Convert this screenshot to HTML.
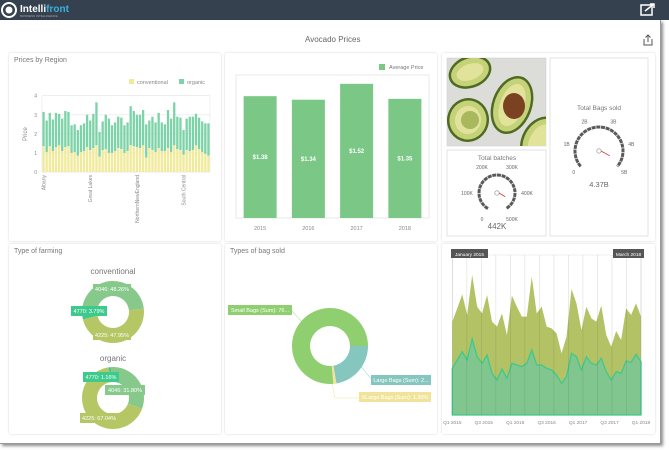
<!DOCTYPE html>
<html><head><meta charset="utf-8">
<style>
*{margin:0;padding:0;box-sizing:border-box}
body{width:669px;height:450px;background:#fff;font-family:"Liberation Sans",sans-serif;position:relative;overflow:hidden}
.abs{position:absolute}
#topbar{left:0;top:0;width:669px;height:20px;background:#364150}
#page{left:0;top:20px;width:661px;height:424px;background:#fff;box-shadow:2px 2px 3px rgba(0,0,0,.45);border-right:1px solid #999;border-bottom:1px solid #999}
.panel{position:absolute;background:#fff;box-shadow:0 0 2px rgba(0,0,0,.18);border-radius:2px}
.ptitle{position:absolute;left:5px;top:4px;font-size:7px;color:#777}
svg text{font-family:"Liberation Sans",sans-serif}
</style></head><body>
<div id="topbar" class="abs">
  <svg width="669" height="20">
    <circle cx="9" cy="10" r="7" fill="none" stroke="#fff" stroke-width="2"/>
    <circle cx="9" cy="10" r="3.5" fill="#fff"/>
    <text x="20" y="12" font-size="10" font-weight="bold" fill="#fff">Intelli<tspan fill="#39b0dc">front</tspan></text>
    <text x="20" y="17" font-size="3" fill="#aaa">BUSINESS INTELLIGENCE</text>
    <g><rect x="641" y="5" width="11" height="10" fill="none" stroke="#fff" stroke-width="1.5"/><path d="M645 11 L654 4 M650 4 L654 4 L654 8" stroke="#fff" stroke-width="1.5" fill="none"/></g>
  </svg>
</div>
<div id="page" class="abs"></div>
<div class="abs" style="left:305px;top:35px;font-size:8px;color:#666">Avocado Prices</div>
<svg class="abs" style="left:642px;top:34px" width="12" height="12"><path d="M2 5 V11 H10 V5 M6 1 V8 M3.5 3.5 L6 1 L8.5 3.5" stroke="#555" fill="none" stroke-width="1"/></svg>

<div class="panel" style="left:9px;top:53px;width:212px;height:188px"><div class="ptitle">Prices by Region</div></div>
<div class="panel" style="left:225px;top:53px;width:212px;height:188px"></div>
<div class="panel" style="left:442px;top:53px;width:213px;height:188px"></div>
<div class="panel" style="left:9px;top:244px;width:212px;height:190px"><div class="ptitle">Type of farming</div></div>
<div class="panel" style="left:225px;top:244px;width:212px;height:190px"><div class="ptitle">Types of bag sold</div></div>
<div class="panel" style="left:442px;top:244px;width:213px;height:190px"></div>

<svg id="main" class="abs" style="left:0;top:0" width="669" height="450"></svg>

<script>
// ---- Chart 1: prices by region ----
const regionTotals=[3.15,2.7,3.1,2.75,3.1,3.05,2.8,3.2,3.15,2.45,2.5,2.2,2.45,2.55,3.0,2.7,3.05,3.65,2.1,2.65,3.0,2.8,2.45,2.6,2.9,2.85,2.45,2.6,3.45,3.2,3.0,3.0,3.25,2.5,2.7,2.9,2.6,3.1,2.6,2.5,3.25,2.8,3.65,2.9,2.85,2.2,2.8,2.9,2.9,3.05,2.85,2.65,2.55,2.55];
const conventional=[1.35,1.05,1.35,1.1,1.3,1.4,1.1,1.3,1.35,1.0,1.05,0.85,1.05,1.1,1.3,1.15,1.25,1.4,0.8,1.15,1.2,1.0,1.0,1.1,1.25,1.2,1.0,1.1,1.4,1.35,1.3,1.25,1.4,0.75,1.25,1.15,1.05,1.25,1.1,1.1,1.25,1.05,1.4,1.2,1.15,0.9,1.15,1.1,1.15,1.4,1.2,1.05,0.95,0.85];
const regionLabels={0:"Albany",15:"Great Lakes",30:"NorthernNewEngland",45:"South Central"};
const priceTicks=[0,1,2,3,4];
// ---- Chart 2: average price ----
const years=["2015","2016","2017","2018"];
const avgPrice=[1.38,1.34,1.52,1.35];
const avgLabels=["$1.38","$1.34","$1.52","$1.35"];
// ---- Gauges ----
const batchLabels=["0","100K","200K","300K","400K","500K"];
const bagLabels=["0","1B","2B","3B","4B","5B"];
// ---- Donuts ----
const convShares=[48.26,47.95,3.79];
const orgShares=[31.80,67.04,1.16];
const bagShares=[76.4,22.3,1.30];
// ---- Area chart ----
const totalVol=[280,320,362,300,420,325,305,360,280,265,305,240,358,325,295,295,415,305,325,265,260,245,185,235,378,335,255,325,290,280,328,240,205,252,225,320,300,335,295];
const greenVol=[140,165,190,165,228,175,155,180,125,105,138,110,155,150,145,155,195,150,150,140,135,120,95,115,185,175,135,175,155,150,170,130,105,130,125,162,158,182,160];
const quarterLabels=["Q1 2015","Q3 2015","Q1 2016","Q3 2016","Q1 2017","Q3 2017","Q1 2018"];

const NS="http://www.w3.org/2000/svg";
const svg=document.getElementById('main');
function mk(tag,attrs,parent){const e=document.createElementNS(NS,tag);for(const k in attrs)e.setAttribute(k,attrs[k]);(parent||svg).appendChild(e);return e;}
function txt(x,y,s,size,fill,anchor,parent){const t=mk('text',{x:x,y:y,'font-size':size,fill:fill,'text-anchor':anchor||'middle'},parent);t.textContent=s;return t;}

// Chart 1
(function(){
 const g=mk('g',{});
 
 
 const x0=42,x1=210,y0=172,y1=95.7,maxV=4;
 const ys=v=>y0-(v/maxV)*(y0-y1);
 mk('rect',{x:x0,y:y1,width:x1-x0,height:y0-y1,fill:'none',stroke:'#e6e6e6','stroke-width':0.6},g);
 priceTicks.forEach(t=>{mk('line',{x1:x0,x2:x1,y1:ys(t),y2:ys(t),stroke:'#e6e6e6','stroke-width':0.6},g);const l=txt(37,ys(t)+2,String(t),5,'#888','end',g);});
 const yt=txt(0,0,"Price",6,'#888','middle',g);yt.setAttribute('transform','translate(27,134) rotate(-90)');
 
 const n=regionTotals.length,bw=(x1-x0)/n;
 for(let i=0;i<n;i++){
  const bx=x0+i*bw+0.4;
  const r1=mk('rect',{x:bx,y:ys(regionTotals[i]),width:bw-0.8,height:ys(conventional[i])-ys(regionTotals[i]),fill:'#7dd3a8'},g);
  
  const r2=mk('rect',{x:bx,y:ys(conventional[i]),width:bw-0.8,height:y0-ys(conventional[i]),fill:'#f1ea9b'},g);
  
  if(regionLabels[i]!==undefined){const l=txt(0,0,regionLabels[i],5,'#888','end',g);l.setAttribute('transform',`translate(${x0+i*bw+bw/2+2},175) rotate(-90)`);}
 }
 const lg=mk('g',{},g);
 mk('rect',{x:129,y:79,width:5,height:5,fill:'#f1ea9b'},lg);txt(137,84,"conventional",5.5,'#888','start',lg);
 mk('rect',{x:179,y:79,width:5,height:5,fill:'#7dd3a8'},lg);txt(187,84,"organic",5.5,'#888','start',lg);
})();

// Chart 2
(function(){
 const g=mk('g',{});
 
 
 const x0=236,x1=429,y0=218,y1=75,maxV=1.62;
 const ys=v=>y0-(v/maxV)*(y0-y1);
 mk('rect',{x:x0,y:y1,width:x1-x0,height:y0-y1,fill:'none',stroke:'#e3e3e3','stroke-width':0.8},g);
 const step=(x1-x0)/years.length,bw=33;
 years.forEach((yr,i)=>{
  const cx=x0+step*(i+0.5);
  const b=mk('rect',{x:cx-bw/2,y:ys(avgPrice[i]),width:bw,height:y0-ys(avgPrice[i]),fill:'#7bc785'},g);
  
  const v=txt(cx,(ys(avgPrice[i])+y0)/2+2,avgLabels[i],6,'#fff','middle',g);v.setAttribute('font-weight','bold');
  
  const l=txt(cx,230,yr,5.5,'#888','middle',g);
 });
 const lg=mk('g',{},g);
 mk('rect',{x:379,y:64,width:6,height:6,fill:'#7bc785'},lg);txt(389,69,"Average Price",5.5,'#777','start',lg);
})();

// Avocado image + KPI boxes
(function(){
 const g=mk('g',{});
 
 
 mk('rect',{x:447,y:58,width:99,height:88,fill:'#dcdcd8',stroke:'#ccc','stroke-width':0.5},g);
 mk('clipPath',{id:'cp'},g);
 const cp=g.lastChild;mk('rect',{x:447,y:58,width:99,height:88},cp);
 const a=mk('g',{'clip-path':'url(#cp)'},g);
 [[470,72,22,16,-20],[468,120,21,22,10],[512,105,20,30,20],[540,140,18,25,30]].forEach(p=>{
  mk('ellipse',{cx:p[0],cy:p[1],rx:p[2],ry:p[3],fill:'#4f6b22',transform:`rotate(${p[4]} ${p[0]} ${p[1]})`},a);
  mk('ellipse',{cx:p[0],cy:p[1],rx:p[2]-2.5,ry:p[3]-2.5,fill:'#c5d27a',transform:`rotate(${p[4]} ${p[0]} ${p[1]})`},a);
  mk('ellipse',{cx:p[0],cy:p[1],rx:p[2]-8,ry:p[3]-8,fill:'#e2e39a',transform:`rotate(${p[4]} ${p[0]} ${p[1]})`},a);
 });
 mk('ellipse',{cx:514,cy:106,rx:11,ry:13,fill:'#7a4221'},a);
 mk('ellipse',{cx:470,cy:120,rx:9,ry:9,fill:'#a9b85c'},a);
 mk('rect',{x:447,y:150,width:99,height:86,fill:'none',stroke:'#ddd','stroke-width':0.8},svg);
 mk('rect',{x:550,y:58,width:98,height:178,fill:'none',stroke:'#ddd','stroke-width':0.8},svg);
})();

function gauge(name,cx,cy,r,R,labels,a0,a1,title,ty,value,vy,vsize){
 const g=mk('g',{});
 
 
 const rad=d=>d*Math.PI/180;
 const p=(rr,d)=>[cx+rr*Math.sin(rad(d)),cy-rr*Math.cos(rad(d))];
 const s=p(r,a0),e=p(r,a1);
 mk('path',{d:`M${s[0]} ${s[1]} A${r} ${r} 0 1 1 ${e[0]} ${e[1]}`,fill:'none',stroke:'#5a5a5a','stroke-width':3,'stroke-dasharray':'4 0.7'},g);
 labels.forEach((l,i)=>{const d=a0+(a1-a0)*i/(labels.length-1);const q=p(R,d);const t=txt(q[0],q[1]+2,l,5,'#666','middle',g);});
 mk('circle',{cx:cx,cy:cy,r:2.2,fill:'#fff',stroke:'#888','stroke-width':0.6},g);
 mk('line',{x1:cx+2,y1:cy,x2:cx+r*0.45,y2:cy+r*0.2,stroke:'#d33','stroke-width':0.8},g);
 const tt=txt(cx,ty,title,6.5,'#777','middle',g);
 const vt=txt(cx,vy,value,vsize,'#666','middle',g);
}
gauge('total-batches-gauge',497,193,18,30,batchLabels,-150,150,'Total batches',160,'442K',229,8);
gauge('total-bags-gauge',599,151,24,33,bagLabels,-130,130,'Total Bags sold',110,'4.37B',187,7.5);

// Donuts
function arcPath(cx,cy,ro,ri,a0,a1){
 const rad=d=>d*Math.PI/180,P=(r,d)=>[cx+r*Math.sin(rad(d)),cy-r*Math.cos(rad(d))];
 const la=(a1-a0)>180?1:0,A=P(ro,a0),B=P(ro,a1),C=P(ri,a1),D=P(ri,a0);
 return `M${A} A${ro} ${ro} 0 ${la} 1 ${B} L${C} A${ri} ${ri} 0 ${la} 0 ${D}Z`;
}
function donut(name,cx,cy,ro,ri,shares,colors,start,names){
 const g=mk('g',{});
 
 
 const tot=shares.reduce((a,b)=>a+b,0);let a=start;
 shares.forEach((s,i)=>{const a1=a+s/tot*360;const pth=mk('path',{d:arcPath(cx,cy,ro,ri,a,a1-0.01),fill:colors[i]},g);
  a=a1;});
 return g;
}
function lbl(x,y,w,s,bg,name){const g=mk('g',{});
 mk('rect',{x:x,y:y,width:w,height:10,fill:bg},g);txt(x+w/2,y+7,s,5.5,'#fff','middle',g);}
const cTitle=txt(113,274,"conventional",8,'#777');
donut('conventional-donut',113,312,31,16,convShares,['#86c98b','#b5c665','#3ec98d'],-90,['4046','4225','4770']);
lbl(93,284,38,"4046: "+convShares[0].toFixed(2)+"%",'#86c98b','label-4046');
lbl(71,306,36,"4770: "+convShares[2].toFixed(2)+"%",'#3ec98d','label-4770');
lbl(93,330,38,"4225: "+convShares[1].toFixed(2)+"%",'#b5c665','label-4225');
const oTitle=txt(113,361,"organic",8,'#777');
donut('organic-donut',113,398,31,16,orgShares,['#86c98b','#b5c665','#3ec98d'],-4,['4046','4225','4770']);
lbl(83,372,36,"4770: "+orgShares[2].toFixed(2)+"%",'#3ec98d','label-4770');
lbl(105,385,40,"4046: "+orgShares[0].toFixed(2)+"%",'#86c98b','label-4046');
lbl(80,413,38,"4225: "+orgShares[1].toFixed(2)+"%",'#b5c665','label-4225');

donut('bag-types-donut',330,346,38,20,[bagShares[1],bagShares[2],bagShares[0]],['#85c7bf','#f1e49a','#8fcf6f'],90,['large-bags','xlarge-bags','small-bags']);
mk('line',{x1:292,y1:311,x2:302,y2:322,stroke:'#8fcf6f','stroke-width':0.5});
mk('line',{x1:360,y1:365,x2:372,y2:380,stroke:'#85c7bf','stroke-width':0.5});
mk('line',{x1:332,y1:384,x2:335,y2:398,stroke:'#f1e49a','stroke-width':0.5});
mk('line',{x1:335,y1:398,x2:359,y2:398,stroke:'#f1e49a','stroke-width':0.5});
lbl(228,305,64,"Small Bags (Sum): 76...",'#8fcf6f','label-small-bags');
lbl(371,375,60,"Large Bags (Sum): 2...",'#85c7bf','label-large-bags');
lbl(359,392,72,"XLarge Bags (Sum): 1.30%",'#f1e49a','label-xlarge-bags');

// Area chart
(function(){
 const g=mk('g',{});
 
 
 const x0=452.3,x1=641,y0=415,k=1/3;
 const n=totalVol.length,xs=i=>x0+(x1-x0)*i/(n-1),ys=v=>y0-v*k;
 mk('rect',{x:x0,y:255,width:x1-x0,height:y0-255,fill:'none',stroke:'#e5e5e5','stroke-width':0.6},g);
 const area=(arr)=>{let d=`M${x0} ${y0}`;arr.forEach((v,i)=>d+=` L${xs(i)} ${ys(v)}`);return d+` L${x1} ${y0}Z`;};
 const a1=mk('path',{d:area(totalVol),fill:'#b3c264'},g);
 const a2=mk('path',{d:area(greenVol),fill:'#80c68e',stroke:'#3ec98d','stroke-width':1.3},g);
 for(let i=0;i<=13;i++){const x=x0+(x1-x0)*i/13;mk('line',{x1:x,x2:x,y1:255,y2:y0,stroke:'rgba(60,60,60,0.15)','stroke-width':0.7},g);}
 quarterLabels.forEach((q,i)=>{const x=x0+(x1-x0)*i/(quarterLabels.length-1);const t=txt(x,424,q,4.8,'#888','middle',g);});
 const s1=mk('g',{},g);
 mk('rect',{x:451,y:249,width:37,height:9,fill:'#555'},s1);txt(469.5,256,"January 2015",4.8,'#fff','middle',s1);
 const s2=mk('g',{},g);
 mk('rect',{x:613,y:249,width:31,height:9,fill:'#555'},s2);txt(628.5,256,"March 2018",4.8,'#fff','middle',s2);
})();
</script>
</body></html>
